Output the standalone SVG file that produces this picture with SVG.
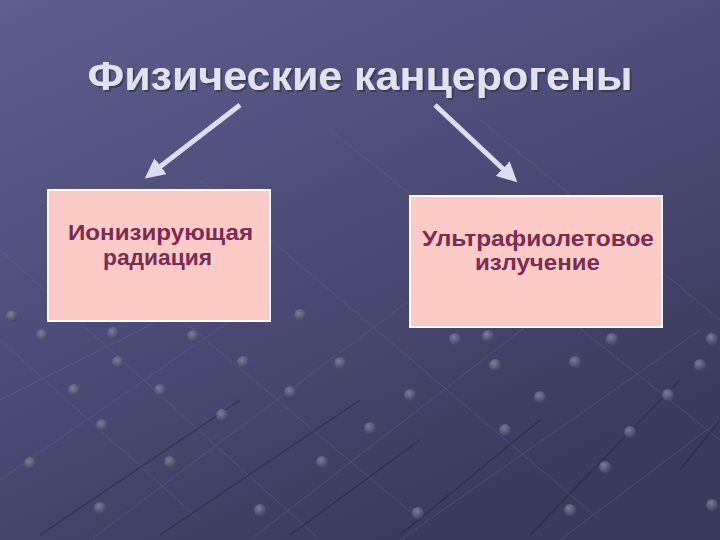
<svg xmlns="http://www.w3.org/2000/svg" width="720" height="540" viewBox="0 0 720 540">
<defs>
<linearGradient id="bg" x1="0" y1="0" x2="0.6" y2="1">
<stop offset="0" stop-color="#5e5e8e"/>
<stop offset="0.5" stop-color="#4c4c78"/>
<stop offset="1" stop-color="#3a3a5c"/>
</linearGradient>
<radialGradient id="dot" cx="0.4" cy="0.35" r="0.6">
<stop offset="0" stop-color="#8a8aa8"/>
<stop offset="1" stop-color="#4a4a6a"/>
</radialGradient>
<filter id="sh" x="-5%" y="-20%" width="110%" height="150%">
<feDropShadow dx="2" dy="2" stdDeviation="0.5" flood-color="#2a2a44" flood-opacity="0.6"/>
</filter>
<marker id="ah" viewBox="0 0 10 10" refX="1" refY="5" markerWidth="4" markerHeight="4" orient="auto" markerUnits="strokeWidth">
<path d="M0,0 L10,5 L0,10 Z" fill="#dcdcf2"/>
</marker>
<style>
.title{font-family:"Liberation Sans",Arial,sans-serif;font-weight:bold;font-size:40px;fill:#e2e2ee;filter:url(#sh)}
.box{fill:#fdcbc6;stroke:#ffffff;stroke-width:2}
.lbl{font-family:"Liberation Sans",Arial,sans-serif;font-weight:bold;font-size:22px;fill:#7a2c52;text-anchor:middle}
.conn{stroke:#dcdcf2;stroke-width:5;fill:none}
.grid{stroke:#6a6a92;stroke-width:1;opacity:0.35;fill:none}
.gdk{stroke:#26263e;stroke-width:1.5;opacity:0.5;fill:none}
</style>
</defs>
<rect x="0" y="0" width="720" height="540" fill="url(#bg)"/>
<g id="background-grid">
<path class="grid" d="M0,340 L200,520 M0,250 L320,540 M40,200 L420,520 M200,180 L600,520 M330,130 L720,440 M480,120 L720,320"/>
<path class="grid" d="M0,480 L260,300 M0,400 L200,300 M90,540 L410,300 M250,540 L560,300 M400,540 L700,330 M560,540 L720,420"/>
<path class="gdk" d="M40,535 L240,400 M160,535 L360,400 M290,535 L420,440 M400,535 L540,420 M530,535 L680,380 M680,470 L720,420"/>
<g fill="url(#dot)" opacity="0.8">
<circle cx="12" cy="316" r="6"/><circle cx="42" cy="335" r="6"/><circle cx="113" cy="333" r="6"/>
<circle cx="74" cy="390" r="6"/><circle cx="118" cy="362" r="6"/><circle cx="160" cy="390" r="6"/>
<circle cx="222" cy="317" r="6"/><circle cx="193" cy="336" r="6"/><circle cx="243" cy="362" r="6"/>
<circle cx="30" cy="463" r="6"/><circle cx="102" cy="425" r="6"/><circle cx="170" cy="462" r="6"/>
<circle cx="222" cy="415" r="6"/><circle cx="290" cy="392" r="6"/><circle cx="322" cy="462" r="6"/>
<circle cx="100" cy="508" r="6"/><circle cx="260" cy="510" r="6"/><circle cx="370" cy="428" r="6"/>
<circle cx="340" cy="363" r="6"/><circle cx="410" cy="395" r="6"/><circle cx="455" cy="339" r="6"/>
<circle cx="495" cy="365" r="6"/><circle cx="505" cy="430" r="6"/><circle cx="418" cy="513" r="6"/>
<circle cx="540" cy="397" r="6"/><circle cx="575" cy="362" r="6"/><circle cx="612" cy="339" r="6"/>
<circle cx="605" cy="467" r="6"/><circle cx="570" cy="510" r="6"/><circle cx="630" cy="432" r="6"/>
<circle cx="668" cy="395" r="6"/><circle cx="700" cy="365" r="6"/><circle cx="712" cy="339" r="6"/>
<circle cx="712" cy="505" r="6"/><circle cx="300" cy="315" r="6"/><circle cx="488" cy="336" r="6"/>
</g>
</g>
<g id="title">
<text class="title" x="360" y="90" text-anchor="middle" textLength="545" lengthAdjust="spacingAndGlyphs">Физические канцерогены</text>
</g>
<g id="connectors">
<line class="conn" x1="240" y1="105" x2="159" y2="167.4" marker-end="url(#ah)"/>
<line class="conn" x1="435" y1="105" x2="504.2" y2="170" marker-end="url(#ah)"/>
</g>
<g id="node-ionizing">
<rect class="box" x="48" y="190" width="222" height="131"/>
<text class="lbl" x="160.5" y="240" textLength="185" lengthAdjust="spacingAndGlyphs">Ионизирующая</text>
<text class="lbl" x="157.5" y="265" textLength="109" lengthAdjust="spacingAndGlyphs">радиация</text>
</g>
<g id="node-uv">
<rect class="box" x="410" y="196" width="252" height="131"/>
<text class="lbl" x="538" y="246" textLength="232" lengthAdjust="spacingAndGlyphs">Ультрафиолетовое</text>
<text class="lbl" x="537.5" y="270" textLength="125" lengthAdjust="spacingAndGlyphs">излучение</text>
</g>
</svg>
